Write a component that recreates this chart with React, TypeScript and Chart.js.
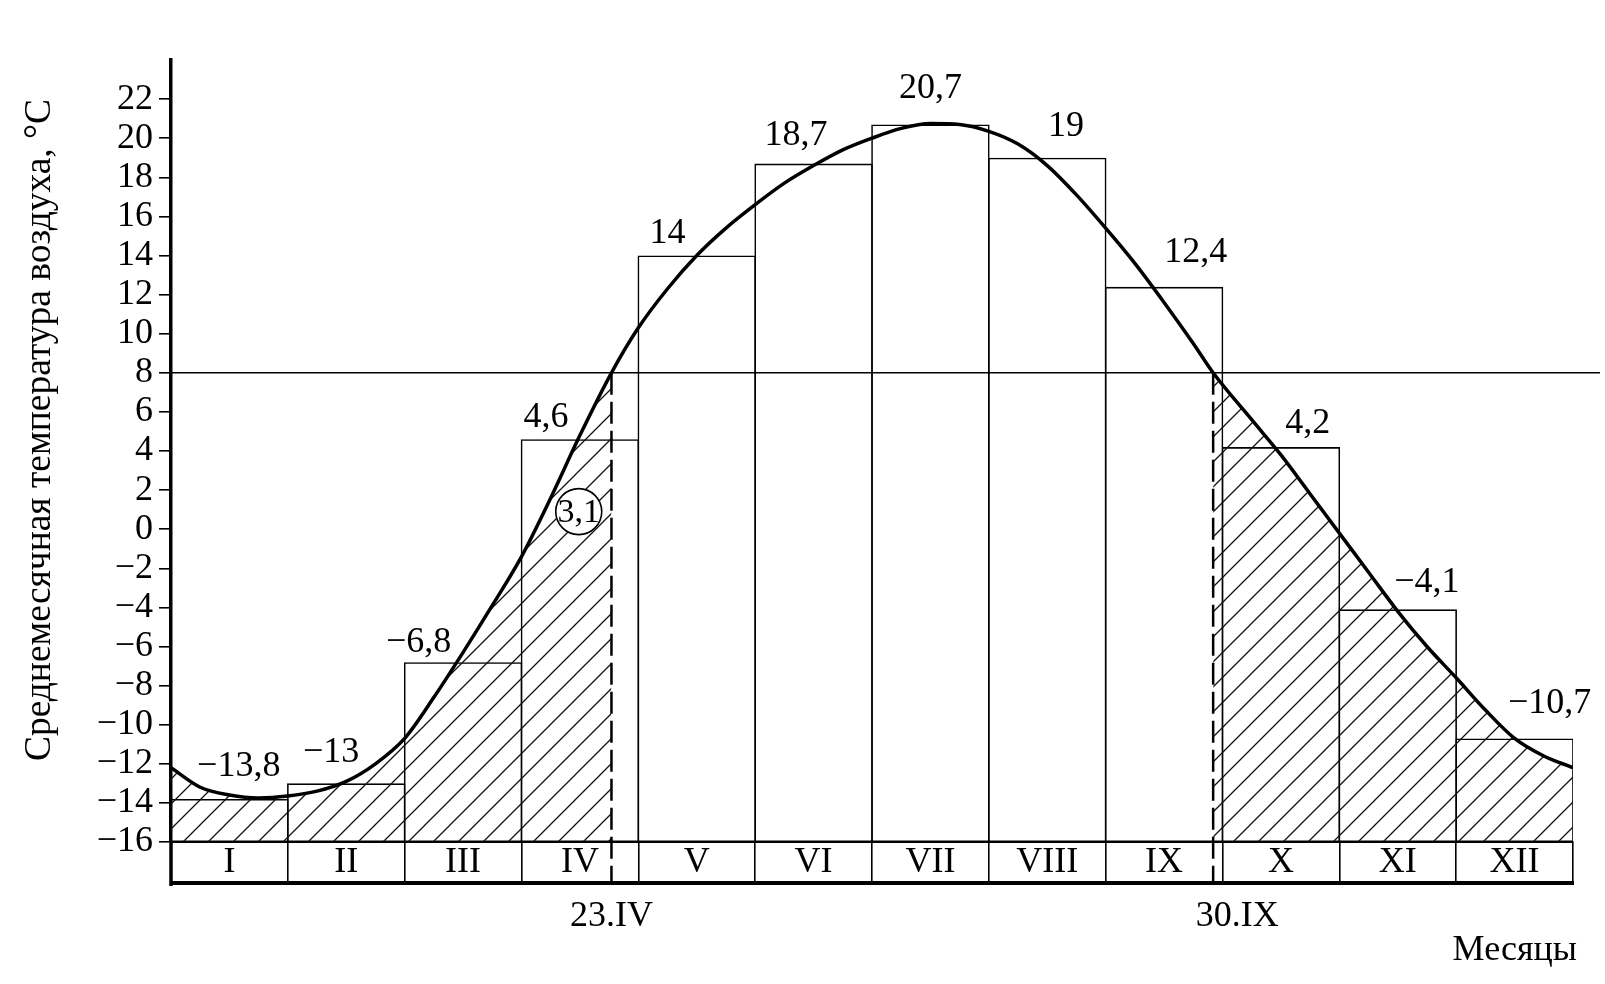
import React, { useEffect, useRef } from 'react';
import { Chart, registerables } from 'chart.js';

Chart.register(...registerables);

// ---------- data ----------
const months = ['I', 'II', 'III', 'IV', 'V', 'VI', 'VII', 'VIII', 'IX', 'X', 'XI', 'XII'];
const monthlyMeans = [-13.8, -13, -6.8, 4.6, 14, 18.7, 20.7, 19, 12.4, 4.2, -4.1, -10.7];

// smooth annual course of temperature (x in months from 1 January)
const curveMonth = [0, 0.25, 0.5, 0.75, 1, 1.25, 1.5, 1.75, 2, 2.25, 2.5, 2.75, 3, 3.25, 3.5, 3.77, 4, 4.25, 4.5, 4.75, 5, 5.25, 5.5, 5.75, 6, 6.25, 6.5, 6.75, 7, 7.25, 7.5, 7.75, 8, 8.25, 8.5, 8.75, 8.92, 9.25, 9.5, 9.75, 10, 10.25, 10.5, 10.75, 11, 11.25, 11.5, 11.75, 12];
const curveTemp = [-12.2, -13.2, -13.6, -13.75, -13.65, -13.4, -12.9, -12.0, -10.7, -8.6, -6.3, -3.9, -1.4, 1.6, 4.8, 8.0, 10.3, 12.3, 14.0, 15.4, 16.6, 17.7, 18.6, 19.4, 20.0, 20.5, 20.75, 20.7, 20.35, 19.7, 18.6, 17.1, 15.4, 13.6, 11.6, 9.5, 8.0, 5.6, 3.8, 1.8, -0.2, -2.2, -4.2, -6.0, -7.6, -9.25, -10.7, -11.6, -12.2];

const yTickValues = [-16, -14, -12, -10, -8, -6, -4, -2, 0, 2, 4, 6, 8, 10, 12, 14, 16, 18, 20, 22];
const yMin = -16;
const yMax = 24;

const thresholdTemp = 8;
const thresholdDates = ['23.IV', '30.IX'];
const thresholdMonth = [3.77, 8.92];

const circledText = '3,1';
const circledMonth = 3.49;
const circledTemp = 0.9;

const yTitle = 'Среднемесячная температура воздуха, °C';
const xTitle = 'Месяцы';

// ---------- label placement (style) ----------
const labelDx = [0.08, -0.13, -0.38, -0.29, -0.25, -0.15, 0, 0.16, 0.27, 0.23, 0.25, 0.3];
const labelDy = [32, 31, 20, 22, 22, 28, 36, 31, 34, 24, 27, 35];
const dateDx = [0, 24];

const FONT = "'Liberation Serif', 'Times New Roman', serif";
const FS = 36;
const BAR_BORDER = 1.6;

const fmt = (v: number) => {
  const s = String(Math.abs(v)).replace('.', ',');
  return v < 0 ? '\u2212' + s : s;
};

function makeHatch(): CanvasPattern | string {
  const s = 25;
  const c = document.createElement('canvas');
  c.width = s;
  c.height = s;
  const g = c.getContext('2d');
  if (!g) return 'rgba(0,0,0,0.2)';
  g.strokeStyle = '#111';
  g.lineWidth = 1.3;
  g.beginPath();
  g.moveTo(-3, s + 3);
  g.lineTo(s + 3, -3);
  g.moveTo(-3, 3);
  g.lineTo(3, -3);
  g.moveTo(s - 3, s + 3);
  g.lineTo(s + 3, s - 3);
  g.stroke();
  return g.createPattern(c, 'repeat') || 'rgba(0,0,0,0.2)';
}

const decorPlugin = {
  id: 'decor',
  afterDatasetsDraw(chart: any) {
    const { ctx, chartArea: ca, scales } = chart;
    const xc = scales.xc;
    const y = scales.y;
    const rowBottom = ca.bottom + 41;
    ctx.save();
    ctx.strokeStyle = '#000';
    ctx.fillStyle = '#000';

    // y axis continues through the month row
    ctx.lineWidth = 3.5;
    ctx.beginPath();
    ctx.moveTo(ca.left, ca.bottom);
    ctx.lineTo(ca.left, rowBottom + 3);
    ctx.stroke();

    // bottom line of the month row
    ctx.lineWidth = 4;
    ctx.beginPath();
    ctx.moveTo(ca.left, rowBottom);
    ctx.lineTo(ca.right + 1, rowBottom);
    ctx.stroke();

    // threshold line (8 °C)
    const y8 = y.getPixelForValue(thresholdTemp);
    ctx.lineWidth = 1.6;
    ctx.beginPath();
    ctx.moveTo(ca.left, y8);
    ctx.lineTo(ca.right + 27, y8);
    ctx.stroke();

    // dashed date lines
    ctx.lineWidth = 2.5;
    ctx.setLineDash([22, 7]);
    thresholdMonth.forEach((m) => {
      const px = xc.getPixelForValue(m);
      ctx.beginPath();
      ctx.moveTo(px, y8);
      ctx.lineTo(px, rowBottom);
      ctx.stroke();
    });
    ctx.setLineDash([]);

    ctx.font = `${FS}px ${FONT}`;
    ctx.textAlign = 'center';
    ctx.textBaseline = 'middle';

    // date labels
    thresholdDates.forEach((t, k) => {
      const px = xc.getPixelForValue(thresholdMonth[k]) + dateDx[k];
      ctx.fillText(t, px, rowBottom + 34);
    });

    // bar value labels
    monthlyMeans.forEach((v, i) => {
      const px = xc.getPixelForValue(i + 0.5 + labelDx[i]);
      const py = y.getPixelForValue(v) - labelDy[i];
      ctx.fillText(fmt(v), px, py);
    });

    // circled value
    const cx = xc.getPixelForValue(circledMonth);
    const cy = y.getPixelForValue(circledTemp);
    ctx.beginPath();
    ctx.arc(cx, cy, 23, 0, Math.PI * 2);
    ctx.fillStyle = '#fff';
    ctx.fill();
    ctx.lineWidth = 1.6;
    ctx.stroke();
    ctx.fillStyle = '#000';
    ctx.font = `${FS - 2}px ${FONT}`;
    ctx.fillText(circledText, cx, cy + 1);

    // x title
    ctx.font = `${FS}px ${FONT}`;
    ctx.textAlign = 'right';
    ctx.fillText(xTitle, ca.right + 4, 951);

    // y title (rotated)
    ctx.save();
    ctx.font = `37.5px ${FONT}`;
    ctx.translate(50, 430);
    ctx.rotate(-Math.PI / 2);
    ctx.textAlign = 'center';
    ctx.textBaseline = 'alphabetic';
    ctx.fillText(yTitle, 0, 0);
    ctx.restore();

    ctx.restore();
  },
};

export default function App() {
  const ref = useRef<HTMLCanvasElement>(null);

  useEffect(() => {
    document.body.style.margin = '0';
    document.body.style.overflow = 'hidden';
    document.body.style.background = '#fff';
    const canvas = ref.current;
    if (!canvas) return;
    const hatch = makeHatch();
    const inGap = (i0: number, i1: number) =>
      curveMonth[i0] >= thresholdMonth[0] - 1e-6 && curveMonth[i1] <= thresholdMonth[1] + 1e-6;

    Chart.defaults.font.family = FONT;
    Chart.defaults.color = '#000';

    const chart = new Chart(canvas, {
      type: 'bar',
      data: {
        labels: months,
        datasets: [
          {
            type: 'line',
            label: 'curve',
            xAxisID: 'xc',
            yAxisID: 'y',
            data: curveMonth.map((m, i) => ({ x: m, y: curveTemp[i] })),
            borderColor: '#000',
            borderWidth: 3.5,
            pointRadius: 0,
            cubicInterpolationMode: 'monotone',
            fill: { value: yMin },
            backgroundColor: hatch,
            segment: {
              backgroundColor: (c: any) => (inGap(c.p0DataIndex, c.p1DataIndex) ? 'rgba(0,0,0,0)' : undefined),
            },
            order: 1,
          } as any,
          {
            type: 'bar',
            label: 'means',
            xAxisID: 'x',
            yAxisID: 'y',
            data: monthlyMeans.map((v) => [yMin, v]),
            backgroundColor: 'rgba(0,0,0,0)',
            borderColor: '#000',
            borderWidth: BAR_BORDER,
            borderSkipped: false,
            grouped: false,
            categoryPercentage: 1,
            barPercentage: 1 + BAR_BORDER / 116.8,
            order: 2,
          } as any,
        ],
      },
      options: {
        responsive: false,
        animation: false,
        events: [],
        layout: { padding: { top: 60, right: 32, left: 0, bottom: 0 } },
        plugins: {
          legend: { display: false },
          tooltip: { enabled: false },
          title: { display: false },
        },
        scales: {
          x: {
            type: 'category',
            position: 'bottom',
            offset: true,
            grid: {
              offset: true,
              drawOnChartArea: false,
              drawTicks: true,
              tickLength: 40,
              color: '#000',
              lineWidth: 1.6,
            },
            border: { display: true, color: '#000', width: 2 },
            ticks: {
              color: '#000',
              font: { family: FONT, size: FS },
              padding: -41,
              autoSkip: false,
              maxRotation: 0,
              minRotation: 0,
            },
            afterFit: (s: any) => {
              s.height = 142;
            },
          },
          xc: {
            type: 'linear',
            min: 0,
            max: 12,
            display: false,
            offset: false,
            grid: { offset: false },
          },
          y: {
            type: 'linear',
            position: 'left',
            min: yMin,
            max: yMax,
            afterBuildTicks: (a: any) => {
              a.ticks = yTickValues.map((v) => ({ value: v }));
            },
            afterFit: (s: any) => {
              s.width = 171;
            },
            grid: { drawOnChartArea: false, tickLength: 12, color: '#000', lineWidth: 1.6 },
            border: { display: true, color: '#000', width: 3.5 },
            ticks: {
              color: '#000',
              font: { family: FONT, size: FS },
              padding: 6,
              autoSkip: false,
              callback: (v: any) => fmt(Number(v)),
            },
          },
        } as any,
      },
      plugins: [decorPlugin],
    });

    return () => chart.destroy();
  }, []);

  return (
    <div style={{ width: 1605, height: 984, background: '#fff' }}>
      <canvas ref={ref} width={1605} height={984} style={{ width: 1605, height: 984, display: 'block' }} />
    </div>
  );
}
